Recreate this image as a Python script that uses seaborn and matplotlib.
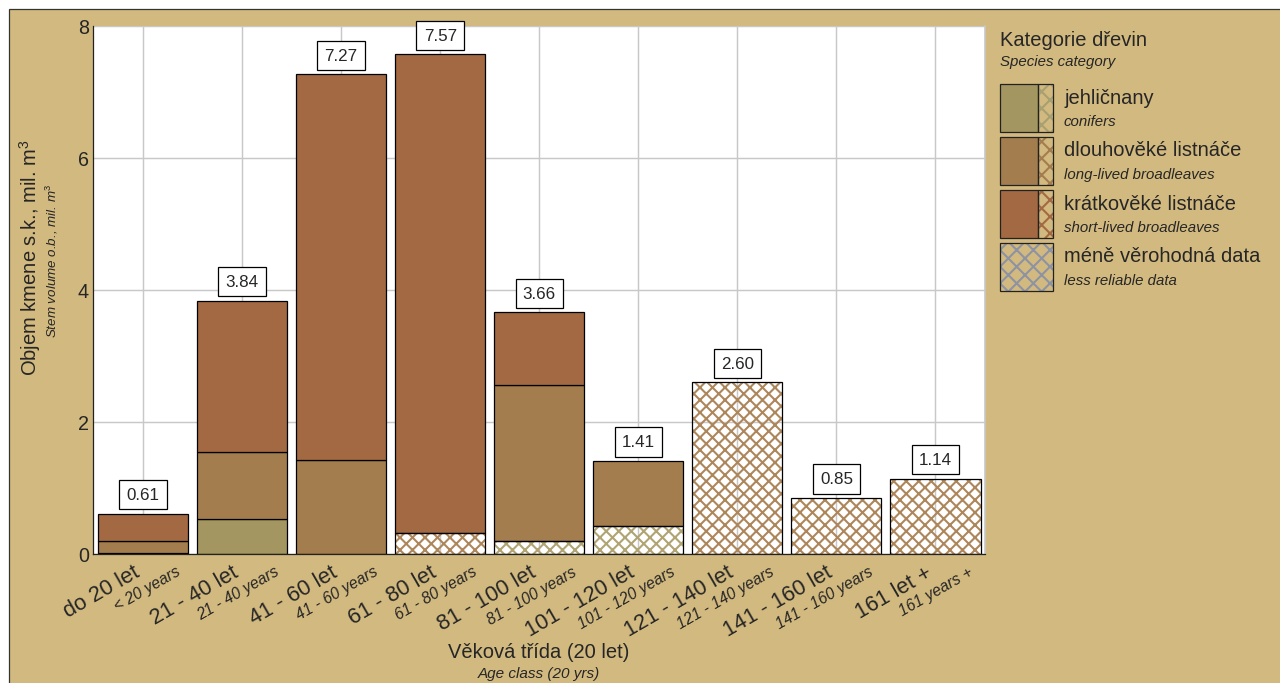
import numpy as np
import pandas as pd
import seaborn as sns
import matplotlib.pyplot as plt
from matplotlib.patches import Rectangle

# age classes (czech / english)
categories = ['do 20 let', '21 - 40 let', '41 - 60 let', '61 - 80 let', '81 - 100 let',
              '101 - 120 let', '121 - 140 let', '141 - 160 let', '161 let +']
categories_en = ['< 20 years', '21 - 40 years', '41 - 60 years', '61 - 80 years', '81 - 100 years',
                 '101 - 120 years', '121 - 140 years', '141 - 160 years', '161 years +']

# stem volume, mil. m3
less_reliable = [0, 0, 0, 0.32, 0.20, 0.43, 2.60, 0.85, 1.14]
less_reliable_kind = ['', '', '', 'long', 'conifer', 'conifer', 'long', 'long', 'long']
conifers = [0.02, 0.53, 0, 0, 0, 0, 0, 0, 0]
long_lived = [0.18, 1.02, 1.43, 0, 2.36, 0.98, 0, 0, 0]
short_lived = [0.41, 2.29, 5.84, 7.25, 1.10, 0, 0, 0, 0]
totals = [0.61, 3.84, 7.27, 7.57, 3.66, 1.41, 2.60, 0.85, 1.14]

legend_cz = ['jehličnany', 'dlouhověké listnáče', 'krátkověké listnáče', 'méně věrohodná data']
legend_en = ['conifers', 'long-lived broadleaves', 'short-lived broadleaves', 'less reliable data']

bg = '#d2b97f'
col = {'conifer': '#a39660', 'long': '#a47d4f', 'short': '#a36943'}
hatch_col = {'conifer': '#b0a473', 'long': '#ad875b'}

sns.set_style('white')
plt.rcParams['font.family'] = ['Liberation Sans', 'DejaVu Sans']
plt.rcParams['mathtext.fontset'] = 'custom'
plt.rcParams['mathtext.rm'] = 'Liberation Sans'
plt.rcParams['mathtext.it'] = 'Liberation Sans:italic'
plt.rcParams['hatch.linewidth'] = 1.0

W, H = 1280, 684
fig = plt.figure(figsize=(W / 150, H / 150), dpi=150)
fig.patch.set_facecolor('white')
fig.add_artist(Rectangle((9 / W, -0.1), 1.2, (H - 10) / H + 0.1, transform=fig.transFigure,
                         facecolor=bg, edgecolor='#333333', lw=0.6, zorder=-10))

ax = fig.add_axes([93 / W, 1 - 555 / H, (985 - 93) / W, (555 - 27) / H])
ax.set_facecolor('white')

cats = np.array(categories)
bottom = np.zeros(len(categories))
bw = 0.91

# less reliable (hatched) part at the bottom
lr = np.array(less_reliable)
for kind in ['conifer', 'long']:
    mask = (np.array(less_reliable_kind) == kind) & (lr > 0)
    sns.barplot(x=cats[mask], y=lr[mask], order=categories, color='white', width=bw,
                saturation=1, ax=ax, zorder=2)
    for p in ax.containers[-1]:
        p.set_facecolor('none')
        p.set_edgecolor(hatch_col[kind])
        p.set_hatch('xxxx')
        p.set_linewidth(0)
mask = lr > 0
sns.barplot(x=cats[mask], y=lr[mask], order=categories, color='black', fill=False, width=bw,
            linewidth=0.6, ax=ax, zorder=3)
bottom += lr

for vals, c in [(conifers, col['conifer']), (long_lived, col['long']), (short_lived, col['short'])]:
    vals = np.array(vals)
    mask = vals > 0
    sns.barplot(x=cats[mask], y=vals[mask], order=categories, bottom=bottom[mask], color=c,
                width=bw, saturation=1, edgecolor='black', linewidth=0.6, ax=ax, zorder=2)
    bottom += vals

ax.set_xlim(-0.505, 8.5)
ax.set_ylim(0, 8)
ax.set_yticks([0, 2, 4, 6, 8])
ax.set_xticks(range(len(categories)))
ax.set_xticklabels([])
ax.tick_params(axis='both', length=0)
ax.tick_params(axis='y', labelsize=9.5, pad=2)
ax.grid(True, color='#c8c8c8', lw=0.7)
ax.set_axisbelow(True)
ax.set_xlabel('')
ax.set_ylabel('')
for s in ['left', 'bottom']:
    ax.spines[s].set_color('#222222')
    ax.spines[s].set_linewidth(0.6)
ax.spines['top'].set_visible(False)
ax.spines['right'].set_color('#c8c8c8')

# total labels
for i, t in enumerate(totals):
    ax.annotate(f'{t:.2f}', xy=(i, t), xytext=(0, 5.5), textcoords='offset points',
                ha='center', va='bottom', fontsize=8.2, zorder=5, annotation_clip=False,
                bbox=dict(boxstyle='square,pad=0.42', fc='white', ec='black', lw=0.6))

# age class labels
for i, (cz, en) in enumerate(zip(categories, categories_en)):
    ax.annotate(cz, xy=(i, 0), xycoords=('data', 'axes fraction'), xytext=(-5, -3.5),
                textcoords='offset points', ha='right', va='top', rotation=30,
                rotation_mode='anchor', fontsize=10.5)
    ax.annotate(en, xy=(i, 0), xycoords=('data', 'axes fraction'), xytext=(15.5, -4.5),
                textcoords='offset points', ha='right', va='top', rotation=30,
                rotation_mode='anchor', fontsize=7.5, style='italic')

# axis titles
fig.text(30 / W, 1 - 258 / H, 'Objem kmene s.k., mil. m$^{3}$', rotation=90,
         ha='center', va='center', fontsize=9.7)
fig.text(52 / W, 1 - 261 / H, 'Stem volume o.b., mil. m$^{\\mathit{3}}$', rotation=90,
         ha='center', va='center', fontsize=6.4, style='italic')
fig.text(539 / W, 1 - 653 / H, 'Věková třída (20 let)', ha='center', va='center', fontsize=9.7)
fig.text(539 / W, 1 - 674 / H, 'Age class (20 yrs)', ha='center', va='center', fontsize=7.3,
         style='italic')

# legend
fig.text(1000 / W, 1 - 40 / H, 'Kategorie dřevin', ha='left', va='center', fontsize=9.7)
fig.text(1000 / W, 1 - 62 / H, 'Species category', ha='left', va='center', fontsize=7.2,
         style='italic')
leg_cols = [col['conifer'], col['long'], col['short']]
leg_hatch = ['#a8a070', col['long'], col['short']]
for i in range(4):
    top = 85 + 53 * i
    if i < 3:
        fig.add_artist(Rectangle((1000 / W, 1 - (top + 48) / H), 38 / W, 48 / H,
                                 transform=fig.transFigure, fc=leg_cols[i], ec='#222222', lw=0.6))
        fig.add_artist(Rectangle((1038 / W, 1 - (top + 48) / H), 15 / W, 48 / H,
                                 transform=fig.transFigure, fc='none', ec=leg_hatch[i], lw=0,
                                 hatch='xxx'))
        fig.add_artist(Rectangle((1038 / W, 1 - (top + 48) / H), 15 / W, 48 / H,
                                 transform=fig.transFigure, fc='none', ec='#222222', lw=0.6))
    else:
        fig.add_artist(Rectangle((1000 / W, 1 - (top + 48) / H), 53 / W, 48 / H,
                                 transform=fig.transFigure, fc='none', ec='#8d93a3', lw=0,
                                 hatch='xxx'))
        fig.add_artist(Rectangle((1000 / W, 1 - (top + 48) / H), 53 / W, 48 / H,
                                 transform=fig.transFigure, fc='none', ec='#222222', lw=0.6))
    fig.text(1064 / W, 1 - (top + 13) / H, legend_cz[i], ha='left', va='center', fontsize=9.7)
    fig.text(1064 / W, 1 - (top + 37) / H, legend_en[i], ha='left', va='center', fontsize=7.2,
             style='italic')

fig.savefig('out.png', dpi=150)
